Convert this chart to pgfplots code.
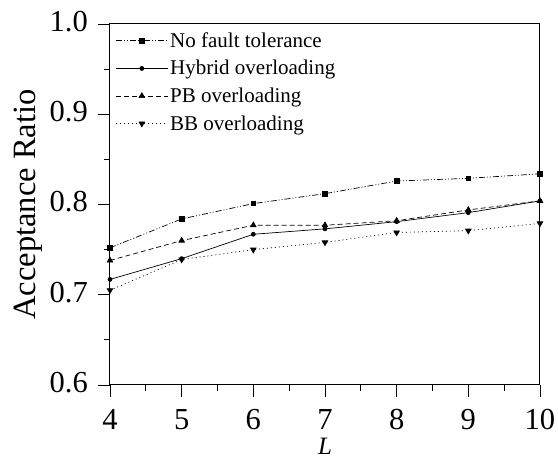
\documentclass[border=0pt]{standalone}
\usepackage{fontspec}
\setmainfont{Liberation Serif}
\usepackage{pgfplots}
\pgfplotsset{compat=1.18}
\begin{document}
\begin{tikzpicture}
\path[use as bounding box] (-110pt,-77pt) rectangle (448pt,385pt);
\begin{axis}[
  at={(0pt,0pt)}, anchor=south west,
  scale only axis,
  width=430pt, height=361pt,
  xmin=4, xmax=10, ymin=0.6, ymax=1.0,
  xtick={4,5,6,7,8,9,10},
  ytick={0.6,0.7,0.8,0.9,1.0},
  minor x tick num=1, minor y tick num=1,
  tick align=inside,
  tick pos=left,
  major tick length=-12pt, minor tick length=-6pt,
  every tick/.style={black, line width=0.8pt},
  axis line style={line width=1pt},
  /pgf/number format/assume math mode=true,
  ticklabel style={font=\fontsize{30.5}{32}\selectfont, inner sep=0pt},
  xticklabel style={anchor=base, yshift=-45pt},
  yticklabel style={anchor=base east, xshift=-22pt, yshift=-7.4pt,
    /pgf/number format/fixed, /pgf/number format/fixed zerofill, /pgf/number format/precision=1},
  xlabel={\textit{L}},
  ylabel={Acceptance Ratio},
  ylabel style={font=\fontsize{32.5}{34}\selectfont, at={(axis description cs:-0.1744,0.5)}, anchor=base, inner sep=0pt},
  xlabel style={font=\fontsize{25}{27}\selectfont, at={(axis description cs:0.5,-0.1939)}, anchor=base, inner sep=0pt},
  legend style={at={(rel axis cs:0.01,0.985)}, anchor=north west, draw=none, fill=none,
    font=\fontsize{21}{24}\selectfont, row sep=7.5pt, inner sep=1pt},
  legend cell align=left,
  legend image code/.code={\draw[mark repeat=2,mark phase=2] plot coordinates {(0pt,0pt) (26pt,0pt) (52pt,0pt)};},
  every axis plot/.append style={line width=0.7pt, black},
]
\addplot[dash pattern=on 6pt off 2pt on 1pt off 2pt on 1pt off 2pt, mark=square*, mark size=2.2pt, mark options={solid}]
  coordinates {(4,0.752) (5,0.784) (6,0.801) (7,0.812) (8,0.826) (9,0.829) (10,0.834)};
\addlegendentry{No fault tolerance}
\addplot[solid, mark=*, mark size=2pt]
  coordinates {(4,0.717) (5,0.740) (6,0.767) (7,0.773) (8,0.781) (9,0.791) (10,0.804)};
\addlegendentry{Hybrid overloading}
\addplot[dash pattern=on 5pt off 3pt, mark=triangle*, mark size=3.2pt, mark options={solid}]
  coordinates {(4,0.738) (5,0.760) (6,0.777) (7,0.777) (8,0.782) (9,0.794) (10,0.804)};
\addlegendentry{PB overloading}
\addplot[dash pattern=on 1pt off 3pt, mark=triangle*, mark size=3.2pt, mark options={solid, rotate=180}]
  coordinates {(4,0.705) (5,0.739) (6,0.750) (7,0.758) (8,0.769) (9,0.771) (10,0.779)};
\addlegendentry{BB overloading}
\end{axis}
\end{tikzpicture}
\end{document}
